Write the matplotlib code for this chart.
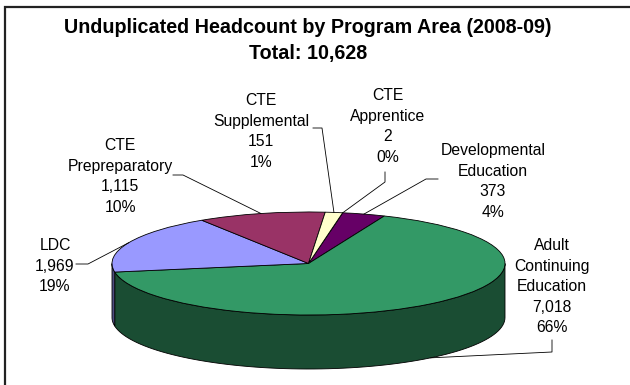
import numpy as np
import matplotlib.pyplot as plt
from matplotlib.transforms import Affine2D
from matplotlib.colors import to_rgb

plt.rcParams['font.family'] = ['Liberation Sans', 'DejaVu Sans']

# headcount per program area, clockwise from the top of the pie
programs = ['CTE\nApprentice', 'Developmental\nEducation', 'Adult\nContinuing\nEducation',
            'LDC', 'CTE\nPrepreparatory', 'CTE\nSupplemental']
headcount = [2, 373, 7018, 1969, 1115, 151]
colors = ['#ccffff', '#660066', '#339966', '#9999ff', '#993366', '#ffffcc']
total = sum(headcount)

# label anchor (center x, first baseline y) and leader elbow for each slice
label_pos = [(388, 100), (493, 155), (552, 250), (55, 250), (120, 150), (261, 105)]
leader_elbow = [[(385, 172), (385, 182)], [(438, 179), (426, 179)], [(552, 340), (552, 352)],
                [(76, 264), (88, 264)], [(173, 175), (183, 175)], [(313, 128), (322, 128)]]

# pie geometry in pixel units
cx, cy = 308.5, 263.5
rx, ry = 196.5, 51.5
depth = 54
line_h = 20.6


def rim(t_deg, drop=0):
    t = np.radians(t_deg)
    return cx + rx * np.cos(t), cy - ry * np.sin(t) + drop


fig = plt.figure(figsize=(6.3, 3.85), dpi=100)
ax = fig.add_axes([0, 0, 1, 1])

wedges, _ = ax.pie(headcount, startangle=80, counterclock=False, colors=colors,
                   wedgeprops=dict(edgecolor='black', linewidth=0.6), frame=True)

# squash the pie into a tilted ellipse
ellipse = Affine2D().scale(rx, -ry).translate(cx, cy) + ax.transData
for w in wedges:
    w.set_transform(ellipse)
    w.set_zorder(3)

# front wall of the pie
for w, c in zip(wedges, colors):
    for k in (-1, 0, 1):
        lo = max(w.theta1, -180 + 360 * k)
        hi = min(w.theta2, 360 * k)
        if hi <= lo:
            continue
        t = np.linspace(lo, hi, 80)
        x, y = rim(t)
        xs = np.concatenate([x, x[::-1]])
        ys = np.concatenate([y, (y + depth)[::-1]])
        ax.fill(xs, ys, facecolor=np.array(to_rgb(c)) * 0.5, edgecolor='black',
                linewidth=0.6, zorder=2)

# data labels with leader lines
for w, name, v, (lx, ly), elbow in zip(wedges, programs, headcount, label_pos, leader_elbow):
    lines = name.split('\n') + ['{:,}'.format(v), '{}%'.format(round(100 * v / total))]
    for j, s in enumerate(lines):
        ax.text(lx, ly + j * line_h, s, ha='center', va='baseline', fontsize=11.3)
    mid = (w.theta1 + w.theta2) / 2
    drop = depth if np.sin(np.radians(mid)) < 0 else 0
    ex, ey = rim(mid, drop)
    px = [elbow[0][0], elbow[1][0], ex]
    py = [elbow[0][1], elbow[1][1], ey]
    ax.plot(px, py, color='black', linewidth=0.6, zorder=4)

ax.text(308, 33, 'Unduplicated Headcount by Program Area (2008-09)', ha='center',
        va='baseline', fontsize=14.2, fontweight='bold')
ax.text(308, 59, 'Total: {:,}'.format(total), ha='center', va='baseline',
        fontsize=14.2, fontweight='bold')

# chart frame
ax.plot([5, 5, 630], [385, 7, 7], color='#222222', linewidth=1.6, solid_joinstyle='miter')

ax.set_aspect('auto')
ax.set_xlim(0, 630)
ax.set_ylim(385, 0)
ax.axis('off')

fig.savefig('out.png', dpi=100)
